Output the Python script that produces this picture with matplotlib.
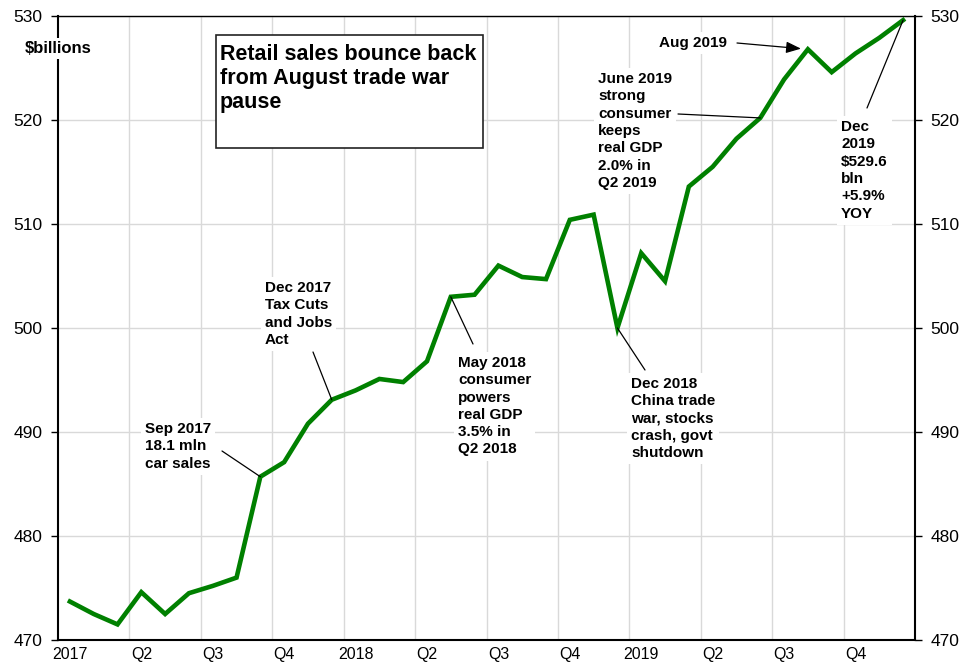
import matplotlib
matplotlib.use('Agg')
import matplotlib.pyplot as plt
from matplotlib.patches import Rectangle
import numpy as np

plt.rcParams['font.family'] = ['Liberation Sans', 'DejaVu Sans']

# monthly retail sales, Jan 2017 .. Dec 2019, $billions
sales_2017 = [473.7, 472.5, 471.5, 474.6, 472.5, 474.5,
              475.2, 476.0, 485.7, 487.1, 490.8, 493.1]
sales_2018 = [494.0, 495.1, 494.8, 496.8, 503.0, 503.2,
              506.0, 504.9, 504.7, 510.4, 510.9, 500.0]
sales_2019 = [507.2, 504.5, 513.6, 515.5, 518.2, 520.2,
              523.9, 526.8, 524.6, 526.4, 527.9, 529.6]
sales = sales_2017 + sales_2018 + sales_2019

tick_labels = ['2017', 'Q2', 'Q3', 'Q4', '2018', 'Q2', 'Q3', 'Q4',
               '2019', 'Q2', 'Q3', 'Q4']
y_ticks = [470, 480, 490, 500, 510, 520, 530]

title = 'Retail sales bounce back\nfrom August trade war\npause'

# (text, month index, text left/top px, line start px)
notes = [
    ('Sep 2017\n18.1 mln\ncar sales', 8, (145, 422), (222, 451)),
    ('Dec 2017\nTax Cuts\nand Jobs\nAct', 11, (265, 281), (313, 352)),
    ('May 2018\nconsumer\npowers\nreal GDP\n3.5% in\nQ2 2018', 16, (458, 356), (473, 344)),
    ('Dec 2018\nChina trade\nwar, stocks\ncrash, govt\nshutdown', 23, (631, 377), (645, 370)),
    ('June 2019\nstrong\nconsumer\nkeeps\nreal GDP\n2.0% in\nQ2 2019', 29, (598, 72), (678, 114)),
    ('Dec\n2019\n$529.6\nbln\n+5.9%\nYOY', 35, (841, 120), (867, 108)),
]

W, H = 974, 662


def fpos(x, y):
    # pixel (from top-left) -> figure fraction
    return x / W, 1 - y / H


fig = plt.figure(figsize=(W / 100, H / 100), dpi=100)
ax = fig.add_axes([58 / W, 1 - 640 / H, (915 - 58) / W, (640 - 16) / H])

months = np.arange(len(sales))
ax.plot(months, sales, color='#008000', lw=3.3, zorder=3,
        solid_joinstyle='miter')

ax.set_xlim(-0.5, len(sales) - 0.5)
ax.set_ylim(470, 530)

ax.set_xticks(np.arange(0, 36, 3))
ax.set_xticklabels(tick_labels)
ax.set_xticks(np.arange(2.5, 33, 3), minor=True)
ax.tick_params(axis='x', which='both', length=0, labelsize=11.5, pad=5)

ax.set_yticks(y_ticks)
ax.yaxis.set_ticks_position('both')
ax.tick_params(axis='y', labelright=True, direction='out', length=5,
               width=1, labelsize=12.5, pad=6)

ax.grid(which='minor', axis='x', color='#d9d9d9', lw=1)
ax.grid(which='major', axis='y', color='#d9d9d9', lw=1)
ax.set_axisbelow(True)

for side in ['left', 'bottom', 'right']:
    ax.spines[side].set_linewidth(1.5)
ax.spines['top'].set_linewidth(1.0)

ax.text(*fpos(25, 41), '$billions', transform=fig.transFigure,
        fontsize=12, fontweight='bold', va='top', ha='left', zorder=6,
        bbox=dict(facecolor='white', edgecolor='none', pad=2))

x0, y0 = fpos(216, 148)
x1, y1 = fpos(483, 35)
ax.add_patch(Rectangle((x0, y0), x1 - x0, y1 - y0, transform=fig.transFigure,
                       facecolor='white', edgecolor='#222222', lw=1.2,
                       zorder=5, clip_on=False))
ax.text(*fpos(220, 44), title, transform=fig.transFigure, fontsize=15.5,
        fontweight='bold', va='top', ha='left', zorder=6)

for text, idx, tpos, lpos in notes:
    ax.text(*fpos(*tpos), text, transform=fig.transFigure, fontsize=11,
            fontweight='bold', va='top', ha='left', zorder=6,
            linespacing=1.3,
            bbox=dict(facecolor='white', edgecolor='none', pad=3))
    ax.annotate('', xy=(idx, sales[idx]), xycoords='data',
                xytext=fpos(*lpos), textcoords='figure fraction',
                arrowprops=dict(arrowstyle='-', color='black', lw=0.9,
                                shrinkA=0, shrinkB=0), zorder=4)

aug = 31
ax.text(*fpos(659, 36), 'Aug 2019', transform=fig.transFigure, fontsize=11,
        fontweight='bold', va='top', ha='left', zorder=6,
        bbox=dict(facecolor='white', edgecolor='none', pad=3))
ax.annotate('', xy=(aug, sales[aug]), xycoords='data',
            xytext=fpos(737, 43), textcoords='figure fraction',
            arrowprops=dict(arrowstyle='-|>,head_length=0.9,head_width=0.35',
                            color='black', lw=0.9, shrinkA=0, shrinkB=5),
            zorder=4)

fig.savefig('out.png', dpi=100)
